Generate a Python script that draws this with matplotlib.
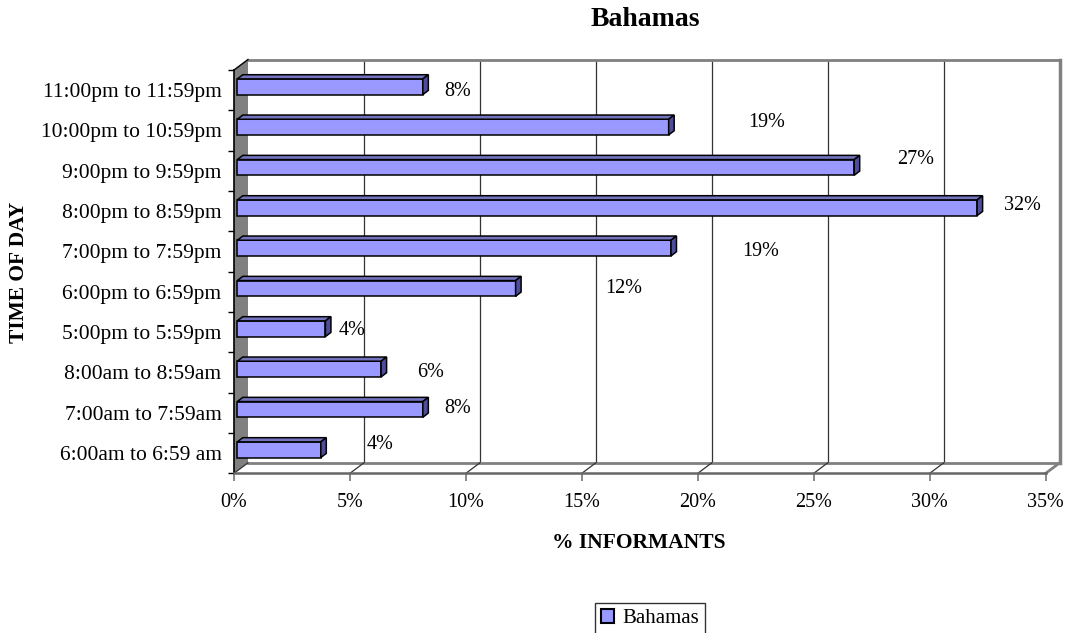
import matplotlib.pyplot as plt
from matplotlib.patches import Polygon, Patch

plt.rcParams['font.family'] = ['Liberation Serif', 'DejaVu Serif']

categories = ["6:00am to 6:59 am", "7:00am to 7:59am", "8:00am to 8:59am",
              "5:00pm to 5:59pm", "6:00pm to 6:59pm", "7:00pm to 7:59pm",
              "8:00pm to 8:59pm", "9:00pm to 9:59pm", "10:00pm to 10:59pm",
              "11:00pm to 11:59pm"]
values = [3.6, 8.0, 6.2, 3.8, 12.0, 18.7, 31.9, 26.6, 18.6, 8.0]
xticks = [0, 5, 10, 15, 20, 25, 30, 35]
series = "Bahamas"

# where excel dropped each value label (pixels from the bar end)
label_dx = [59, 35, 49, 27, 108, 90, 45, 61, 98, 35]
label_dy = [5, 1, -3, -2, -0.5, -3.5, 2, 7.6, 5, -5]

W, H = 1065, 633
x0, x1, y0, y1 = 234, 1045.7, 473.3, 70   # front plane in pixels

fig = plt.figure(figsize=(W / 100, H / 100), dpi=100)
ax = fig.add_axes([x0 / W, 1 - y0 / H, (x1 - x0) / W, (y0 - y1) / H])
ax.set_xlim(0, 35)
ax.set_ylim(-0.5, 9.5)
for s in ax.spines.values():
    s.set_visible(False)

sx = (x1 - x0) / 35
sy = (y0 - y1) / 10

def px(dx, dy):
    return dx / sx, dy / sy

wx, wy = px(14, 10.5)     # wall depth
bx, by = px(3.3, 3.4)     # bar front face shift
dx, dy = px(5.5, 4.2)     # bar depth
bh = 15.7 / sy
lo, hi = -0.5, 9.5
grey = '#808080'

# left wall
ax.add_patch(Polygon([(0, lo), (wx, lo + wy), (wx, hi + wy), (0, hi)],
                     facecolor=grey, edgecolor='none', clip_on=False, zorder=1))
ax.plot([0, 0], [lo, hi], color='black', lw=1.2, clip_on=False, zorder=3)
ax.plot([0, wx], [hi, hi + wy], color='black', lw=1, clip_on=False, zorder=3)

# back wall grid + border
for t in xticks[1:-1]:
    ax.plot([t + wx, t + wx], [lo + wy, hi + wy], color='#333333', lw=0.9,
            clip_on=False, zorder=2)
ax.plot([wx, 35 + wx], [hi + wy, hi + wy], color=grey, lw=2, clip_on=False, zorder=2)
ax.plot([35 + wx, 35 + wx], [lo + wy, hi + wy], color=grey, lw=2.5, clip_on=False, zorder=2)
ax.plot([wx, 35 + wx], [lo + wy, lo + wy], color=grey, lw=2, clip_on=False, zorder=2)

# floor
for t in xticks:
    c, lw = (grey, 2) if t == 35 else ('#333333', 0.9)
    ax.plot([t, t + wx], [lo, lo + wy], color=c, lw=lw, clip_on=False, zorder=2)
ax.plot([0, 35], [lo, lo], color='#666666', lw=1.8, clip_on=False, zorder=3)

# bars: front face from barh, top and side faces added on
bars = ax.barh([k + by for k in range(len(values))], values, height=bh, left=bx,
               color='#9999ff', edgecolor='black', linewidth=1.1, zorder=4)
for b in bars:
    xa, ya = b.get_x(), b.get_y()
    xb, yb = xa + b.get_width(), ya + b.get_height()
    ax.add_patch(Polygon([(xa, yb), (xb, yb), (xb + dx, yb + dy), (xa + dx, yb + dy)],
                         facecolor='#7373c0', edgecolor='black', lw=1.1, zorder=4))
    ax.add_patch(Polygon([(xb, ya), (xb, yb), (xb + dx, yb + dy), (xb + dx, ya + dy)],
                         facecolor='#4d4d99', edgecolor='black', lw=1.1, zorder=4))

for k, v in enumerate(values):
    ax.annotate(f"{round(v)}%", (bx + v, k + by), xytext=(label_dx[k], label_dy[k]),
                textcoords='offset pixels', ha='center', va='center', fontsize=14.5)

# axes ticks
ax.set_yticks(range(len(categories)), categories, fontsize=15.5)
ax.set_yticks([k - 0.5 for k in range(len(categories) + 1)], minor=True)
ax.tick_params(axis='y', which='major', length=0, pad=9)
ax.tick_params(axis='y', which='minor', length=4.5, width=1, color='black')
ax.set_xticks(xticks, [f"{t}%" for t in xticks], fontsize=14.5)
ax.tick_params(axis='x', length=6, width=1.3, color=grey, pad=8)

fig.text(645 / W, 1 - 19.3 / H, series, ha='center', va='center',
         fontsize=20, fontweight='bold')
fig.text(639 / W, 1 - 543 / H, "% INFORMANTS", ha='center', va='center',
         fontsize=15.5, fontweight='bold')
fig.text(19 / W, 1 - 272 / H, "TIME OF DAY", ha='center', va='center',
         rotation=90, fontsize=15.5, fontweight='bold')

leg = fig.legend(handles=[Patch(facecolor='#9999ff', edgecolor='black', lw=1.5, label=series)],
                 loc='upper center', bbox_to_anchor=(650 / W, 1 - 603 / H),
                 fontsize=15, frameon=True, fancybox=False, handlelength=0.6,
                 handleheight=0.6, handletextpad=0.4, borderpad=0.3, borderaxespad=0)
leg.get_frame().set_edgecolor('black')
leg.get_frame().set_linewidth(1)

fig.savefig('out.png', dpi=100)
